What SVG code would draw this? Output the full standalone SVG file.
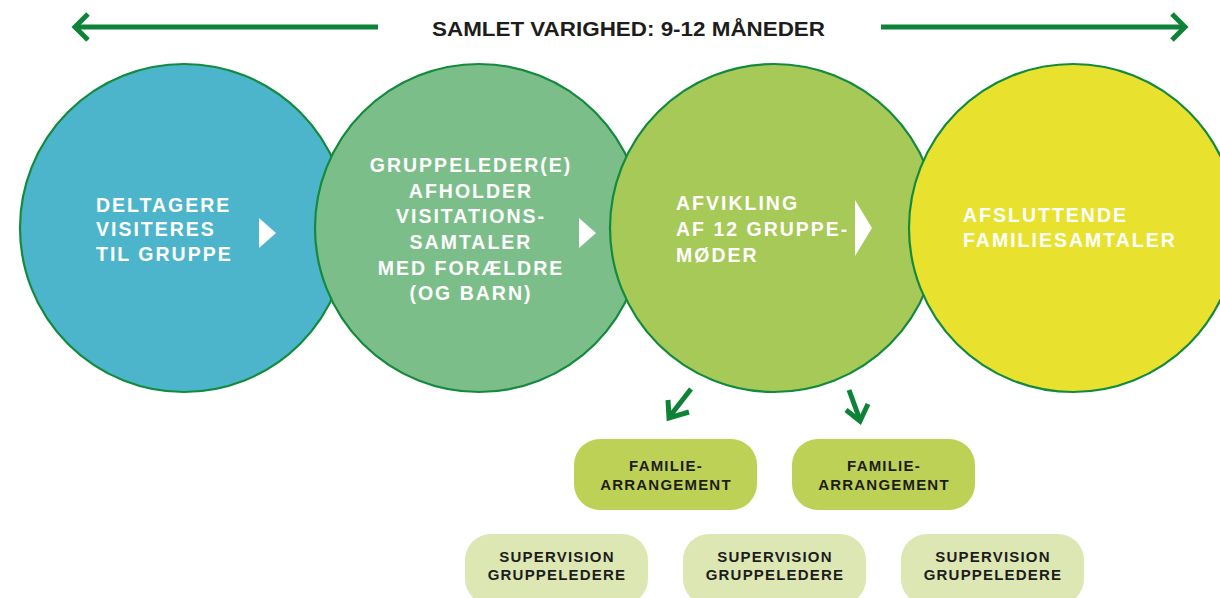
<svg xmlns="http://www.w3.org/2000/svg" width="1220" height="598" viewBox="0 0 1220 598">
  <style>
    .circ { stroke: #138a3e; stroke-width: 2.2; }
    .ctext { font-family: "Liberation Sans", Arial, sans-serif; font-weight: bold; font-size: 19.5px; fill: #ffffff; letter-spacing: 2px; }
    .btext { font-family: "Liberation Sans", Arial, sans-serif; font-weight: bold; font-size: 15px; fill: #1d1d1b; letter-spacing: 1.2px; text-anchor: middle; }
    .title { font-family: "Liberation Sans", Arial, sans-serif; font-weight: bold; font-size: 21px; fill: #1d1d1b; }
    .tri { fill: #ffffff; }
    .garrow { fill: none; stroke: #0e8237; stroke-width: 5; stroke-linecap: butt; stroke-linejoin: miter; }
    .fam { fill: #bdd156; }
    .sup { fill: #dce7b4; }
  </style>

  <g id="duration">
    <text class="title" x="432" y="36" textLength="393" lengthAdjust="spacingAndGlyphs">SAMLET VARIGHED: 9-12 MÅNEDER</text>
  </g>

  <g id="connectors">
    <path class="garrow" d="M378 27 H76"/>
    <path class="garrow" d="M88 14 L75 27 L88 40"/>
    <path class="garrow" d="M881 27 H1184"/>
    <path class="garrow" d="M1172 14 L1185 27 L1172 40"/>
    <path class="garrow" d="M691 389 L670 416"/>
    <path class="garrow" d="M668 400 L669 418 L689 412"/>
    <path class="garrow" d="M849 390 L860 420"/>
    <path class="garrow" d="M846 410 L860 421 L868 404"/>
  </g>

  <g id="node1">
    <circle class="circ" cx="184" cy="228" r="164" fill="#4db5cb"/>
    <text class="ctext" x="96" y="211.5">DELTAGERE</text>
    <text class="ctext" x="96" y="236">VISITERES</text>
    <text class="ctext" x="96" y="260.5">TIL GRUPPE</text>
    <polygon class="tri" points="259,218 276,233 259,248"/>
  </g>

  <g id="node2">
    <circle class="circ" cx="479" cy="228" r="164" fill="#7cbe89"/>
    <g class="ctext" text-anchor="middle">
      <text x="471" y="171.5">GRUPPELEDER(E)</text>
      <text x="471" y="197.5">AFHOLDER</text>
      <text x="471" y="223">VISITATIONS-</text>
      <text x="471" y="249">SAMTALER</text>
      <text x="471" y="275">MED FORÆLDRE</text>
      <text x="471" y="300">(OG BARN)</text>
    </g>
    <polygon class="tri" points="579,218 596,233 579,248"/>
  </g>

  <g id="node3">
    <circle class="circ" cx="774" cy="228" r="164" fill="#a7c957"/>
    <text class="ctext" x="676" y="210">AFVIKLING</text>
    <text class="ctext" x="676" y="235.7">AF 12 GRUPPE-</text>
    <text class="ctext" x="676" y="261.5">MØDER</text>
    <polygon class="tri" points="855,200 872,228 855,256"/>
  </g>

  <g id="node4">
    <circle class="circ" cx="1073" cy="228" r="164" fill="#e8e22e"/>
    <text class="ctext" x="963" y="221.5">AFSLUTTENDE</text>
    <text class="ctext" x="963" y="247.3">FAMILIESAMTALER</text>
  </g>

  <g id="familie1">
    <rect class="fam" x="574" y="439" width="183" height="71" rx="26" ry="26"/>
    <text class="btext" x="666" y="471">FAMILIE-</text>
    <text class="btext" x="666" y="489.5">ARRANGEMENT</text>
  </g>
  <g id="familie2">
    <rect class="fam" x="792" y="439" width="183" height="71" rx="26" ry="26"/>
    <text class="btext" x="884" y="471">FAMILIE-</text>
    <text class="btext" x="884" y="489.5">ARRANGEMENT</text>
  </g>

  <g id="supervision1">
    <rect class="sup" x="465" y="534" width="183" height="71" rx="26" ry="26"/>
    <text class="btext" x="557" y="561.5">SUPERVISION</text>
    <text class="btext" x="557" y="580">GRUPPELEDERE</text>
  </g>
  <g id="supervision2">
    <rect class="sup" x="683" y="534" width="183" height="71" rx="26" ry="26"/>
    <text class="btext" x="775" y="561.5">SUPERVISION</text>
    <text class="btext" x="775" y="580">GRUPPELEDERE</text>
  </g>
  <g id="supervision3">
    <rect class="sup" x="901" y="534" width="183" height="71" rx="26" ry="26"/>
    <text class="btext" x="993" y="561.5">SUPERVISION</text>
    <text class="btext" x="993" y="580">GRUPPELEDERE</text>
  </g>
</svg>
